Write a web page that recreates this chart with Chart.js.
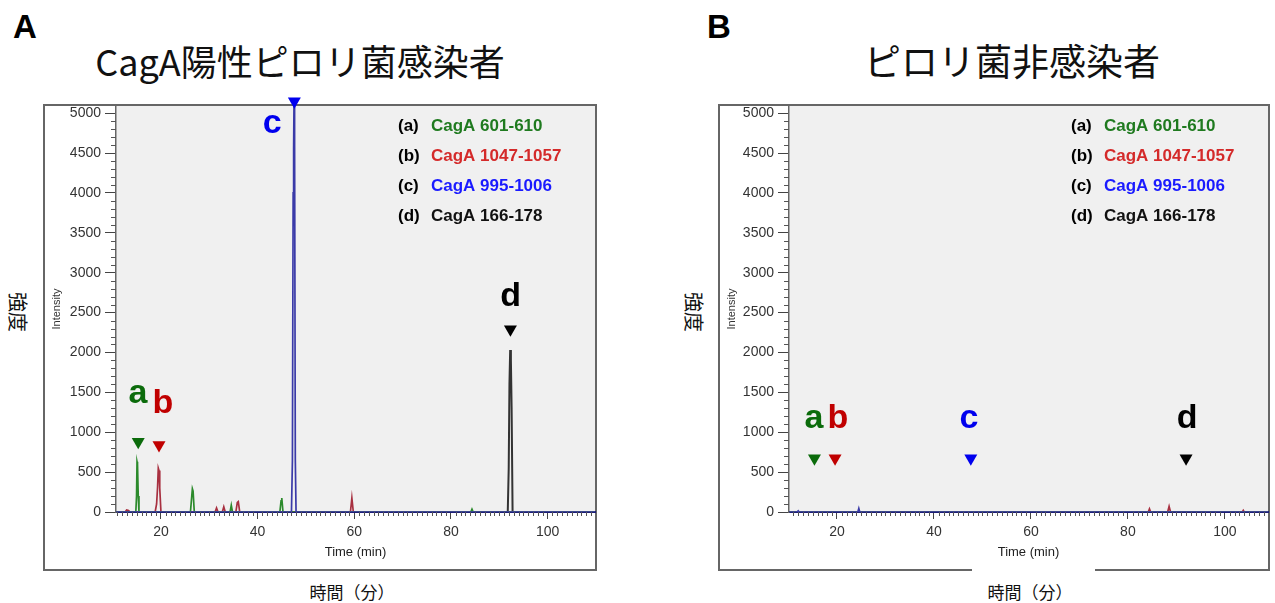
<!DOCTYPE html>
<html>
<head>
<meta charset="utf-8">
<script src="https://cdn.jsdelivr.net/npm/chart.js@4.4.1/dist/chart.umd.min.js"></script>
<style>
  body { margin:0; width:1275px; height:603px; background:#fff; position:relative; overflow:hidden;
         font-family:"Noto Sans CJK JP", "Noto Sans", sans-serif; }
  .abs { position:absolute; }
  .frame { position:absolute; border:2px solid #666; box-sizing:border-box; }
  .panel { position:absolute; font:bold 33px "Liberation Sans", Arial, sans-serif; color:#000; }
  .title { position:absolute; font-size:37px; color:#111; white-space:nowrap; transform:translate(-50%,-50%); }
  .ylab { position:absolute; font-size:20px; color:#111; transform:translate(-50%,-50%) rotate(90deg); white-space:nowrap; }
  .xlab { position:absolute; font-size:17px; color:#111; transform:translate(-50%,-50%); white-space:nowrap; }
  canvas { position:absolute; }
</style>
</head>
<body>
<div class="panel" style="left:13px;top:8px">A</div>
<div class="panel" style="left:707px;top:8px">B</div>
<div class="title" style="left:300px;top:60px;font-size:36px">CagA陽性ピロリ菌感染者</div>
<div class="title" style="left:1012px;top:60px">ピロリ菌非感染者</div>
<div class="ylab" style="left:18px;top:312px">強度</div>
<div class="ylab" style="left:694px;top:312px">強度</div>

<div class="frame" style="left:43px;top:104px;width:554px;height:467px"></div>
<div class="frame" style="left:718px;top:104px;width:552px;height:467px"></div>
<div class="abs" style="left:972px;top:567px;width:123px;height:6px;background:#fff"></div>

<div class="xlab" style="left:352px;top:591px">時間（分）</div>
<div class="xlab" style="left:1030px;top:591px">時間（分）</div>

<canvas id="chartA" width="554" height="481" style="left:43px;top:90px"></canvas>
<canvas id="chartB" width="552" height="481" style="left:718px;top:90px"></canvas>

<script>
// ---- data ----
var yTicks = [0, 500, 1000, 1500, 2000, 2500, 3000, 3500, 4000, 4500, 5000];
var xTicks = [20, 40, 60, 80, 100];

var legendIds   = ['(a)', '(b)', '(c)', '(d)'];
var legendNames = ['CagA 601-610', 'CagA 1047-1057', 'CagA 995-1006', 'CagA 166-178'];

// A: CagA positive
var timeA_a = [10.7, 14.8, 14.95, 15.05, 15.15, 15.3, 15.45, 26.1, 26.35, 26.5, 26.65, 26.9, 34.3, 34.55, 34.8, 44.6, 44.85, 45.0, 45.25, 84.1, 84.35, 84.6, 109.8];
var intA_a  = [0,    0,    200,   630,   600,   200,  0,     0,    180,   290,  260,   0,    0,    85,    0,    0,    140,   175,  0,     0,    35,    0,    0];
var timeA_b = [10.7, 12.6, 12.9, 13.3, 13.6, 18.8, 19.1, 19.3, 19.45, 19.6, 19.75, 20.0, 31.2, 31.5, 31.8, 32.7, 33.0, 33.3, 35.5, 35.8, 36.0, 36.3, 59.2, 59.5, 59.8, 109.8];
var intA_b  = [0,    0,    25,   20,   0,    0,    100,  310,  550,   520,  300,   0,    0,    50,   0,    0,    65,   0,    0,    120,  130,  0,    0,    175,  0,    0];
var timeA_c = [10.7, 47.0, 47.2, 47.35, 47.45, 47.55, 47.65, 47.8, 47.95, 109.8];
var intA_c  = [0,    0,    650,  4000,  4550,  5300,  4600,  650,  0,     0];
var timeA_d = [10.7, 91.75, 91.95, 92.1, 92.25, 92.4, 92.55, 92.75, 109.8];
var intA_d  = [0,    0,     550,   1600, 2030,  1900, 1300,  0,     0];

var markA_x = [15.3, 19.6, 47.6, 92.3];
var markA_y = [880, 840, 5150, 2290];
var letterA_x = [15.25, 20.4, 43.0, 92.35];
var letterA_y = [1370, 1245, 4750, 2585];

// B: uninfected
var timeB_a = [10.1, 108.9];
var intB_a  = [0, 0];
var timeB_b = [10.1, 84.2, 84.45, 84.7, 88.2, 88.5, 88.8, 103.6, 103.8, 104.0, 108.9];
var intB_b  = [0,    0,    40,    0,    0,    70,   0,    0,     20,    0,     0];
var timeB_c = [10.1, 11.8, 12.0, 12.2, 24.3, 24.5, 24.7, 108.9];
var intB_c  = [0,    0,    15,   0,    0,    45,   0,    0];
var timeB_d = [10.1, 108.9];
var intB_d  = [0, 0];

var markB_x = [15.35, 19.6, 47.6, 92.0];
var markB_y = [673, 673, 673, 673];
var letterB_x = [15.25, 20.2, 47.2, 92.2];
var letterB_y = [1058, 1058, 1058, 1058];

var letters = ['a', 'b', 'c', 'd'];

var lineColors   = ['#2b8a2b', '#a83040', '#3a3aa8', '#333333'];
var legendColors = ['#1f7a1f', '#d42a2a', '#1a1aff', '#111111'];
var markColors   = ['#0b6b0b', '#c00000', '#0000ee', '#000000'];

function pts(xs, ys) {
  return xs.map(function (x, i) { return { x: x, y: ys[i] }; });
}

var tickFont = '"Liberation Sans", Arial, sans-serif';

var panelDeco = {
  id: 'panelDeco',
  beforeDraw: function (chart) {
    var a = chart.chartArea, ctx = chart.ctx;
    ctx.save();
    ctx.fillStyle = '#f0f0f0';
    ctx.fillRect(a.left, a.top, a.right - a.left, a.bottom - a.top);
    ctx.restore();
  },
  afterDraw: function (chart, args, opts) {
    var ctx = chart.ctx, a = chart.chartArea;
    var xs = chart.scales.x, ys = chart.scales.y;
    ctx.save();
    // minor ticks
    ctx.strokeStyle = '#555';
    ctx.lineWidth = 1;
    ctx.beginPath();
    for (var v = 0; v <= 5000; v += 100) {
      if (v % 500 === 0) continue;
      var py = Math.round(ys.getPixelForValue(v)) + 0.5;
      ctx.moveTo(a.left - 5, py); ctx.lineTo(a.left, py);
    }
    for (var t = Math.ceil(xs.min); t <= xs.max; t++) {
      if (t % 20 === 0) continue;
      var px = Math.round(xs.getPixelForValue(t)) + 0.5;
      ctx.moveTo(px, a.bottom); ctx.lineTo(px, a.bottom + 4);
    }
    ctx.stroke();

    // legend text
    ctx.font = 'bold 17px ' + tickFont;
    ctx.textBaseline = 'middle';
    ctx.textAlign = 'left';
    var lx = a.right - 197;
    for (var i = 0; i < legendIds.length; i++) {
      var ly = a.top + 20 + i * 30;
      ctx.fillStyle = '#000';
      ctx.fillText(legendIds[i], lx, ly);
      ctx.fillStyle = legendColors[i];
      ctx.fillText(legendNames[i], lx + 33, ly);
    }

    // peak letters
    ctx.font = 'bold 34px ' + tickFont;
    ctx.textAlign = 'center';
    ctx.textBaseline = 'alphabetic';
    for (var j = 0; j < letters.length; j++) {
      ctx.fillStyle = markColors[j];
      ctx.fillText(letters[j], xs.getPixelForValue(opts.lx[j]), ys.getPixelForValue(opts.ly[j]));
    }
    ctx.restore();
  }
};

function _show_chart(dom, series, markX, markY, lx, ly, xMin, xMax, yWidth) {
  var datasets = [{
    data: pts(markX, markY),
    showLine: false,
    pointStyle: 'triangle',
    rotation: 180,
    pointRadius: 7.5,
    pointBorderWidth: 0,
    pointBackgroundColor: markColors,
    clip: false,
    order: 0
  }];
  // blue first so its baseline sits on top
  [2, 0, 1, 3].forEach(function (k, n) {
    datasets.push({
      data: pts(series[k][0], series[k][1]),
      borderColor: lineColors[k],
      borderWidth: k === 3 ? 2 : 1.7,
      pointRadius: 0,
      tension: 0,
      order: n + 1
    });
  });

  return new Chart(dom, {
    type: 'line',
    data: { datasets: datasets },
    options: {
      responsive: false,
      animation: false,
      layout: { autoPadding: false, padding: { top: 16, right: 2, left: 0, bottom: 0 } },
      plugins: {
        legend: { display: false },
        tooltip: { enabled: false },
        panelDeco: { lx: lx, ly: ly }
      },
      scales: {
        x: {
          type: 'linear',
          min: xMin,
          max: xMax,
          afterBuildTicks: function (s) { s.ticks = xTicks.map(function (v) { return { value: v }; }); },
          afterFit: function (s) { s.height = 59; s.paddingLeft = 0; s.paddingRight = 0; },
          grid: { drawOnChartArea: false, drawTicks: true, tickLength: 7, tickColor: '#444' },
          border: { display: true, color: '#1c1c78', width: 2 },
          ticks: { font: { family: tickFont, size: 14 }, color: '#333', padding: 5, maxRotation: 0,
                   callback: function (v) { return String(v); } },
          title: { display: true, text: 'Time (min)', color: '#222',
                   font: { family: tickFont, size: 13 }, padding: { top: 0, bottom: 11 } }
        },
        y: {
          min: 0,
          max: 5090,
          afterBuildTicks: function (s) { s.ticks = yTicks.map(function (v) { return { value: v }; }); },
          afterFit: function (s) { s.width = yWidth; s.paddingTop = 0; s.paddingBottom = 0; },
          grid: { drawOnChartArea: false, drawTicks: true, tickLength: 11, tickColor: '#444' },
          border: { display: true, color: '#666', width: 1.5 },
          ticks: { font: { family: tickFont, size: 14 }, color: '#333', padding: 4,
                   callback: function (v) { return String(v); } },
          title: { display: true, text: 'Intensity', color: '#333',
                   font: { family: tickFont, size: 11 }, padding: { top: 7, bottom: 0 } }
        }
      }
    },
    plugins: [panelDeco]
  });
}

_show_chart(document.getElementById('chartA'),
  [[timeA_a, intA_a], [timeA_b, intA_b], [timeA_c, intA_c], [timeA_d, intA_d]],
  markA_x, markA_y, letterA_x, letterA_y, 10.7, 109.8, 73);

_show_chart(document.getElementById('chartB'),
  [[timeB_a, intB_a], [timeB_b, intB_b], [timeB_c, intB_c], [timeB_d, intB_d]],
  markB_x, markB_y, letterB_x, letterB_y, 10.1, 108.9, 71);
</script>
</body>
</html>
